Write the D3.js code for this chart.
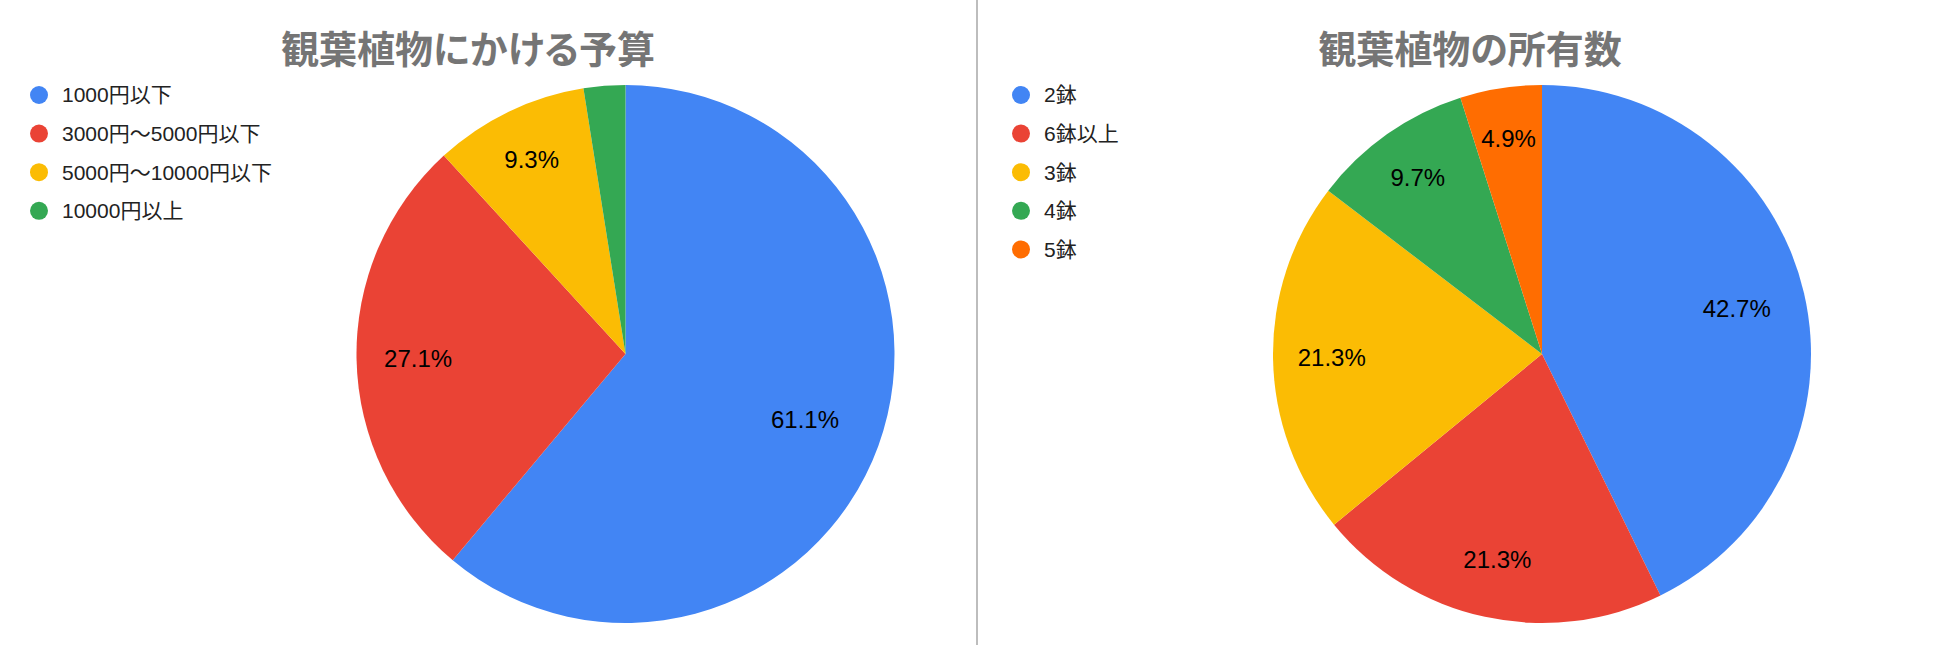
<!DOCTYPE html>
<html>
<head>
<meta charset="utf-8">
<script src="https://cdn.jsdelivr.net/npm/d3@7"></script>
<style>
	body { margin: 0; background: #fff; }
	svg { display: block; }
	.title { font-family: "Noto Sans CJK JP", sans-serif; font-weight: 700; font-size: 38px; fill: #757575; font-feature-settings: "palt"; }
	.legend text { font-family: "Liberation Sans", "Noto Sans CJK JP", sans-serif; font-size: 21px; fill: #222; }
	.pct { font-family: "Liberation Sans", Arial, sans-serif; font-size: 24px; fill: #000; }
</style>
</head>
<body>
<svg id="chart" width="1950" height="645"></svg>
<script>
// 観葉植物にかける予算
const budgetCats = ['1000円以下', '3000円〜5000円以下', '5000円〜10000円以下', '10000円以上']
const budgetVals = [61.1, 27.1, 9.3, 2.5]
const budgetColors = ['#4285f4', '#ea4335', '#fbbc04', '#34a853']

// 観葉植物の所有数
const ownCats = ['2鉢', '6鉢以上', '3鉢', '4鉢', '5鉢']
const ownVals = [42.7, 21.3, 21.3, 9.7, 4.9]
const ownColors = ['#4285f4', '#ea4335', '#fbbc04', '#34a853', '#ff6d01']

const width = 1950, height = 645
const svg = d3.select('#chart')

svg.append('rect').attr('width', width).attr('height', height).attr('fill', '#fff')

// 区切り線
svg.append('line')
	.attr('x1', 977).attr('x2', 977)
	.attr('y1', 0).attr('y2', height)
	.attr('stroke', '#bdbdbd')
	.attr('stroke-width', 2)

function drawPie(opts) {
	let { title, cats, vals, colors, x0, cx, cy, r, titleX } = opts
	let g = svg.append('g')
	let total = d3.sum(vals)
	let color = d3.scaleOrdinal().domain(cats).range(colors)

	g.append('text')
		.attr('class', 'title')
		.attr('x', titleX)
		.attr('y', 46)
		.attr('text-anchor', 'middle')
		.attr('dominant-baseline', 'central')
		.text(title)

	// legend
	let legend = g.append('g').attr('class', 'legend')
		.attr('transform', `translate(${x0},95)`)
	let row = legend.selectAll('g').data(cats).join('g')
		.attr('transform', (d, i) => `translate(0,${i * 38.6})`)
	row.append('circle').attr('r', 9).attr('fill', d => color(d))
	row.append('text')
		.attr('x', 23)
		.attr('dy', '0.35em')
		.text(d => d)

	let pie = d3.pie().sort(null).value(d => d.v)
	let arcs = pie(cats.map((c, i) => ({ c, v: vals[i] })))
	let arc = d3.arc().innerRadius(0).outerRadius(r)

	let pg = g.append('g').attr('transform', `translate(${cx},${cy})`)
	pg.selectAll('path').data(arcs).join('path')
		.attr('d', arc)
		.attr('fill', d => color(d.data.c))
		.attr('stroke', 'none')

	// 小さいスライスほどラベルを外側に
	pg.selectAll('text').data(arcs.filter(d => d.data.v / total > 0.03)).join('text')
		.attr('class', 'pct')
		.attr('transform', d => {
			let f = d.data.v / total
			let lr = r * (0.82 - 0.18 * f)
			let c = d3.arc().innerRadius(lr).outerRadius(lr).centroid(d)
			return `translate(${c[0]},${c[1]})`
		})
		.attr('text-anchor', 'middle')
		.attr('dy', '0.36em')
		.text(d => d3.format('.1f')(d.data.v / total * 100) + '%')
}

drawPie({ title: '観葉植物にかける予算', cats: budgetCats, vals: budgetVals, colors: budgetColors,
	x0: 39, cx: 625.5, cy: 354, r: 269, titleX: 468 })
drawPie({ title: '観葉植物の所有数', cats: ownCats, vals: ownVals, colors: ownColors,
	x0: 1021, cx: 1542, cy: 354, r: 269, titleX: 1470 })
</script>
</body>
</html>
